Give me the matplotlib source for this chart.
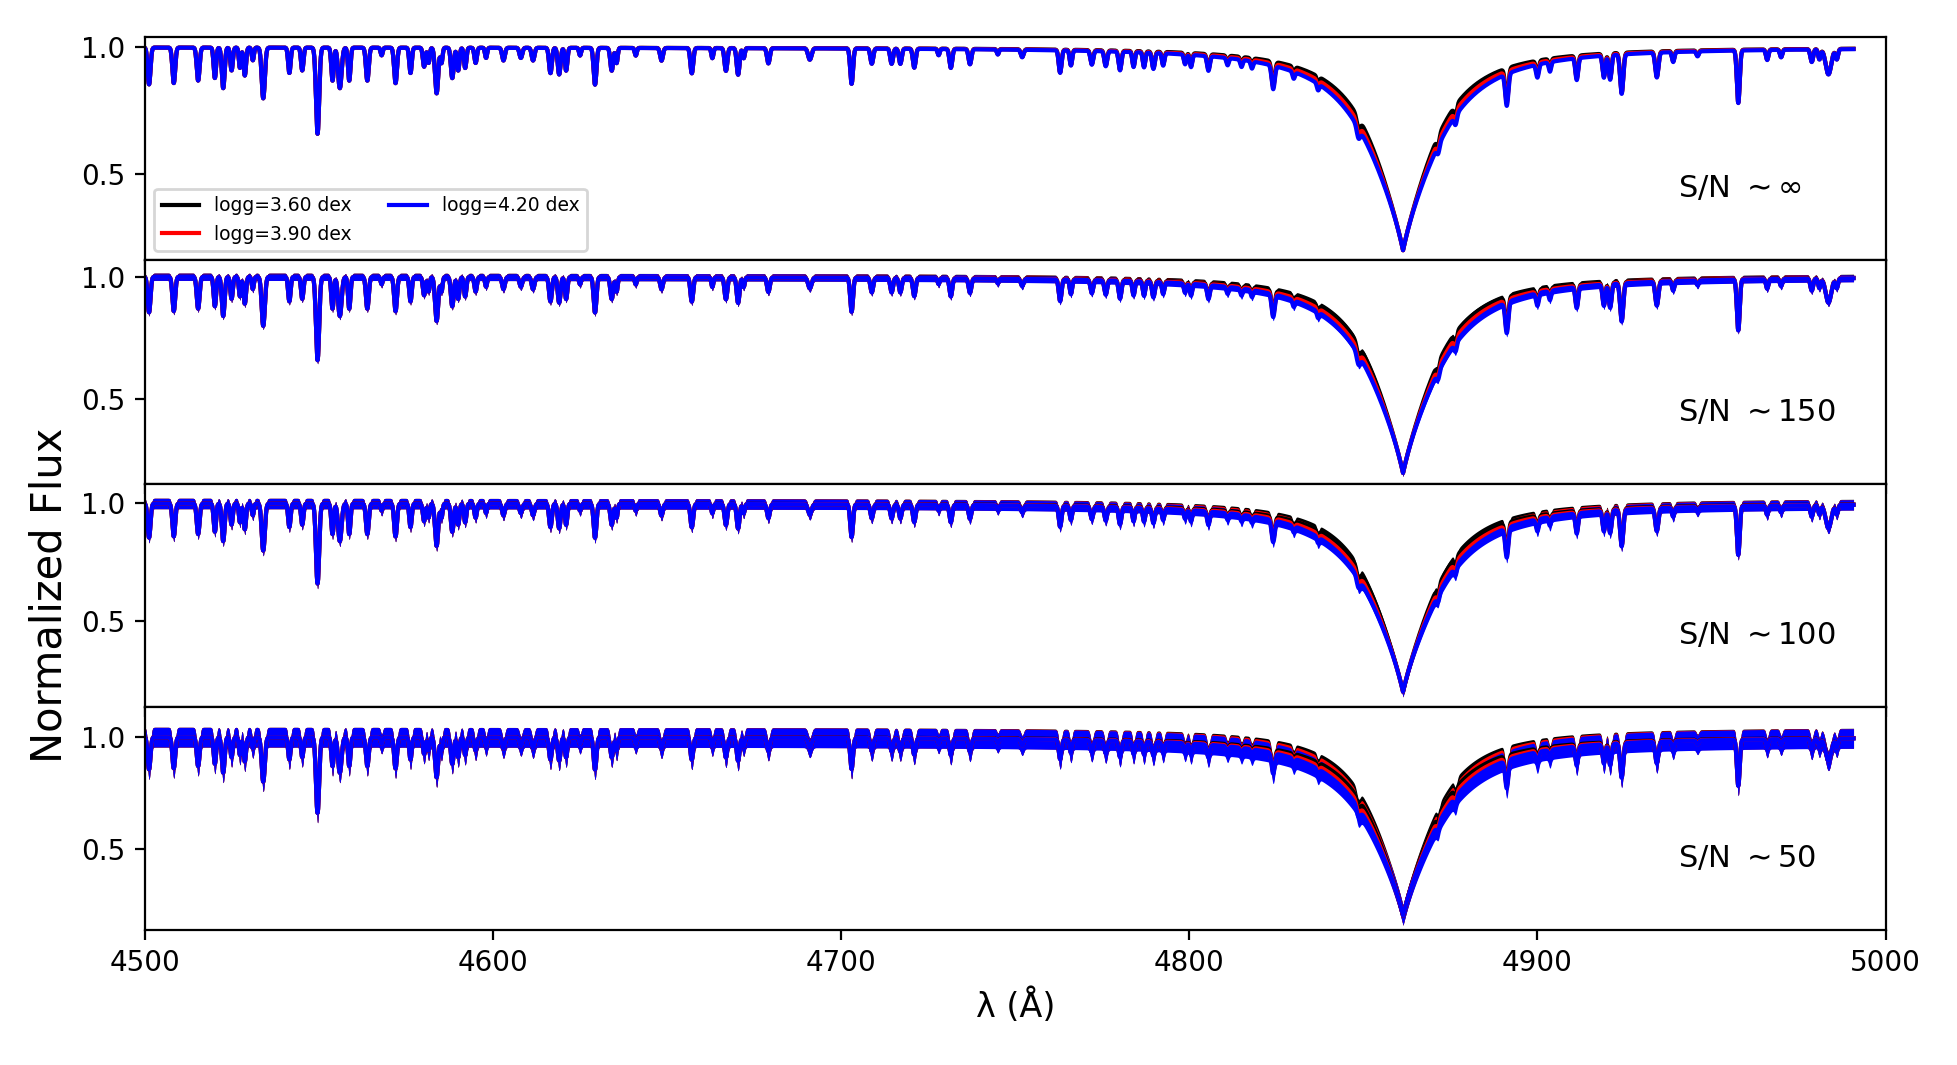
import numpy as np
import matplotlib
matplotlib.use('Agg')
import matplotlib.pyplot as plt

# three model spectra (logg) shown at four noise levels
logg_labels = ['logg=3.60 dex', 'logg=3.90 dex', 'logg=4.20 dex']
colors = ['black', 'red', 'blue']

# H-beta profile: sharp core + broad wings (width per logg)
hb_center = 4861.4
hb_core_depth = 0.25
hb_core_width = 3.9
hb_wing_depth = 0.55
hb_wing_width = [12.5, 13.5, 14.5]

# metal lines: centre (A), depth relative to local continuum, gaussian sigma (A)
line_wave = [4501.2, 4508.3, 4515.3, 4520.1, 4522.5, 4524.9, 4527.3, 4528.7, 4531.0, 4534.0,
             4541.5, 4545.2, 4549.6, 4553.9, 4556.0, 4558.7, 4563.9, 4568.0, 4572.0, 4576.3,
             4580.2, 4581.5, 4583.8, 4585.2, 4588.3, 4590.0, 4592.0, 4595.0, 4598.0, 4603.0,
             4608.0, 4611.5, 4616.5, 4619.0, 4621.0, 4625.0, 4629.3, 4634.1, 4635.5, 4641.0,
             4648.4, 4657.1, 4663.0, 4666.9, 4670.4, 4672.0, 4679.1, 4691.0, 4703.0, 4708.8,
             4714.5, 4717.0, 4721.0, 4728.0, 4731.5, 4737.0, 4745.0, 4752.0, 4762.9, 4766.0,
             4772.0, 4776.0, 4780.1, 4784.0, 4787.0, 4789.7, 4792.5, 4798.8, 4800.5, 4805.5,
             4811.0, 4815.0, 4818.0, 4824.1, 4830.0, 4837.0, 4848.6, 4871.5, 4876.5, 4891.2,
             4900.0, 4903.6, 4911.3, 4919.1, 4920.9, 4924.2, 4934.3, 4939.0, 4946.0, 4957.7,
             4966.0, 4970.0, 4978.8, 4981.0, 4983.6, 4986.0]
line_depth = [0.145, 0.14, 0.13, 0.12, 0.16, 0.09, 0.08, 0.11, 0.05, 0.20,
              0.10, 0.09, 0.34, 0.13, 0.16, 0.13, 0.13, 0.03, 0.14, 0.10,
              0.075, 0.06, 0.18, 0.06, 0.12, 0.09, 0.08, 0.06, 0.04, 0.05,
              0.04, 0.05, 0.10, 0.105, 0.09, 0.03, 0.145, 0.09, 0.06, 0.03,
              0.05, 0.10, 0.04, 0.09, 0.105, 0.04, 0.06, 0.045, 0.14, 0.06,
              0.06, 0.06, 0.075, 0.025, 0.075, 0.06, 0.02, 0.03, 0.09, 0.06,
              0.055, 0.06, 0.075, 0.06, 0.06, 0.065, 0.05, 0.04, 0.05, 0.06,
              0.03, 0.03, 0.03, 0.10, 0.03, 0.03, 0.06, 0.05, 0.05, 0.14,
              0.055, 0.04, 0.09, 0.09, 0.10, 0.16, 0.10, 0.04, 0.02, 0.21,
              0.04, 0.03, 0.05, 0.04, 0.10, 0.04]
line_sigma = [0.4, 0.4, 0.4, 0.35, 0.4, 0.35, 0.3, 0.35, 0.3, 0.45,
              0.35, 0.35, 0.45, 0.35, 0.5, 0.35, 0.4, 0.3, 0.4, 0.35,
              0.35, 0.3, 0.45, 0.3, 0.4, 0.35, 0.35, 0.35, 0.3, 0.4,
              0.4, 0.4, 0.4, 0.4, 0.35, 0.3, 0.4, 0.4, 0.3, 0.3,
              0.4, 0.4, 0.3, 0.4, 0.4, 0.3, 0.4, 0.5, 0.4, 0.4,
              0.4, 0.4, 0.4, 0.3, 0.4, 0.4, 0.3, 0.4, 0.4, 0.35,
              0.4, 0.4, 0.4, 0.35, 0.35, 0.4, 0.35, 0.35, 0.35, 0.4,
              0.35, 0.35, 0.35, 0.45, 0.35, 0.35, 0.5, 0.4, 0.4, 0.45,
              0.4, 0.35, 0.4, 0.4, 0.4, 0.45, 0.45, 0.35, 0.35, 0.4,
              0.35, 0.35, 0.4, 0.35, 0.8, 0.35]

snr_labels = [r'S/N $\sim\infty$', r'S/N $\sim$150', r'S/N $\sim$100', r'S/N $\sim$50']
snr = [None, 150, 100, 50]
ylims = [(0.16, 1.04), (0.157, 1.066), (0.137, 1.084), (0.136, 1.136)]

wave = np.arange(4500.0, 4990.8, 0.05)
metals = np.ones_like(wave)
for c, d, s in zip(line_wave, line_depth, line_sigma):
    metals *= 1 - d * np.exp(-0.5 * ((wave - c) / s) ** 2)

spectra = []
dl = wave - hb_center
for g in hb_wing_width:
    hb = 1 - hb_core_depth * np.exp(-np.abs(dl) / hb_core_width) - hb_wing_depth / (1 + (dl / g) ** 2)
    spectra.append(hb * metals)

fig, axes = plt.subplots(4, 1, sharex=True, figsize=(9.79, 5.325), dpi=200)
fig.subplots_adjust(left=0.074, right=0.963, top=0.965, bottom=0.127, hspace=0)

for i, ax in enumerate(axes):
    for flux, col, lab in zip(spectra, colors, logg_labels):
        if snr[i] is not None:
            band = 2.2 / snr[i]
            ax.fill_between(wave, flux - band, flux + band, color=col, lw=0)
        ax.plot(wave, flux, color=col, lw=1.5, label=lab)
    ax.set_ylim(ylims[i])
    ax.set_yticks([0.5, 1.0])
    ax.tick_params(labelsize=10)
    ax.text(0.881, 0.32, snr_labels[i], transform=ax.transAxes, fontsize=11, va='center')

axes[0].legend(loc='lower left', ncol=2, fontsize=6.75)
axes[2].set_ylabel('Normalized Flux', fontsize=15)
axes[3].set_xlim(4500, 5000)
axes[3].set_xticks([4500, 4600, 4700, 4800, 4900, 5000])
axes[3].set_xlabel('λ (Å)', fontsize=12)

plt.savefig('out.png', dpi=200)
